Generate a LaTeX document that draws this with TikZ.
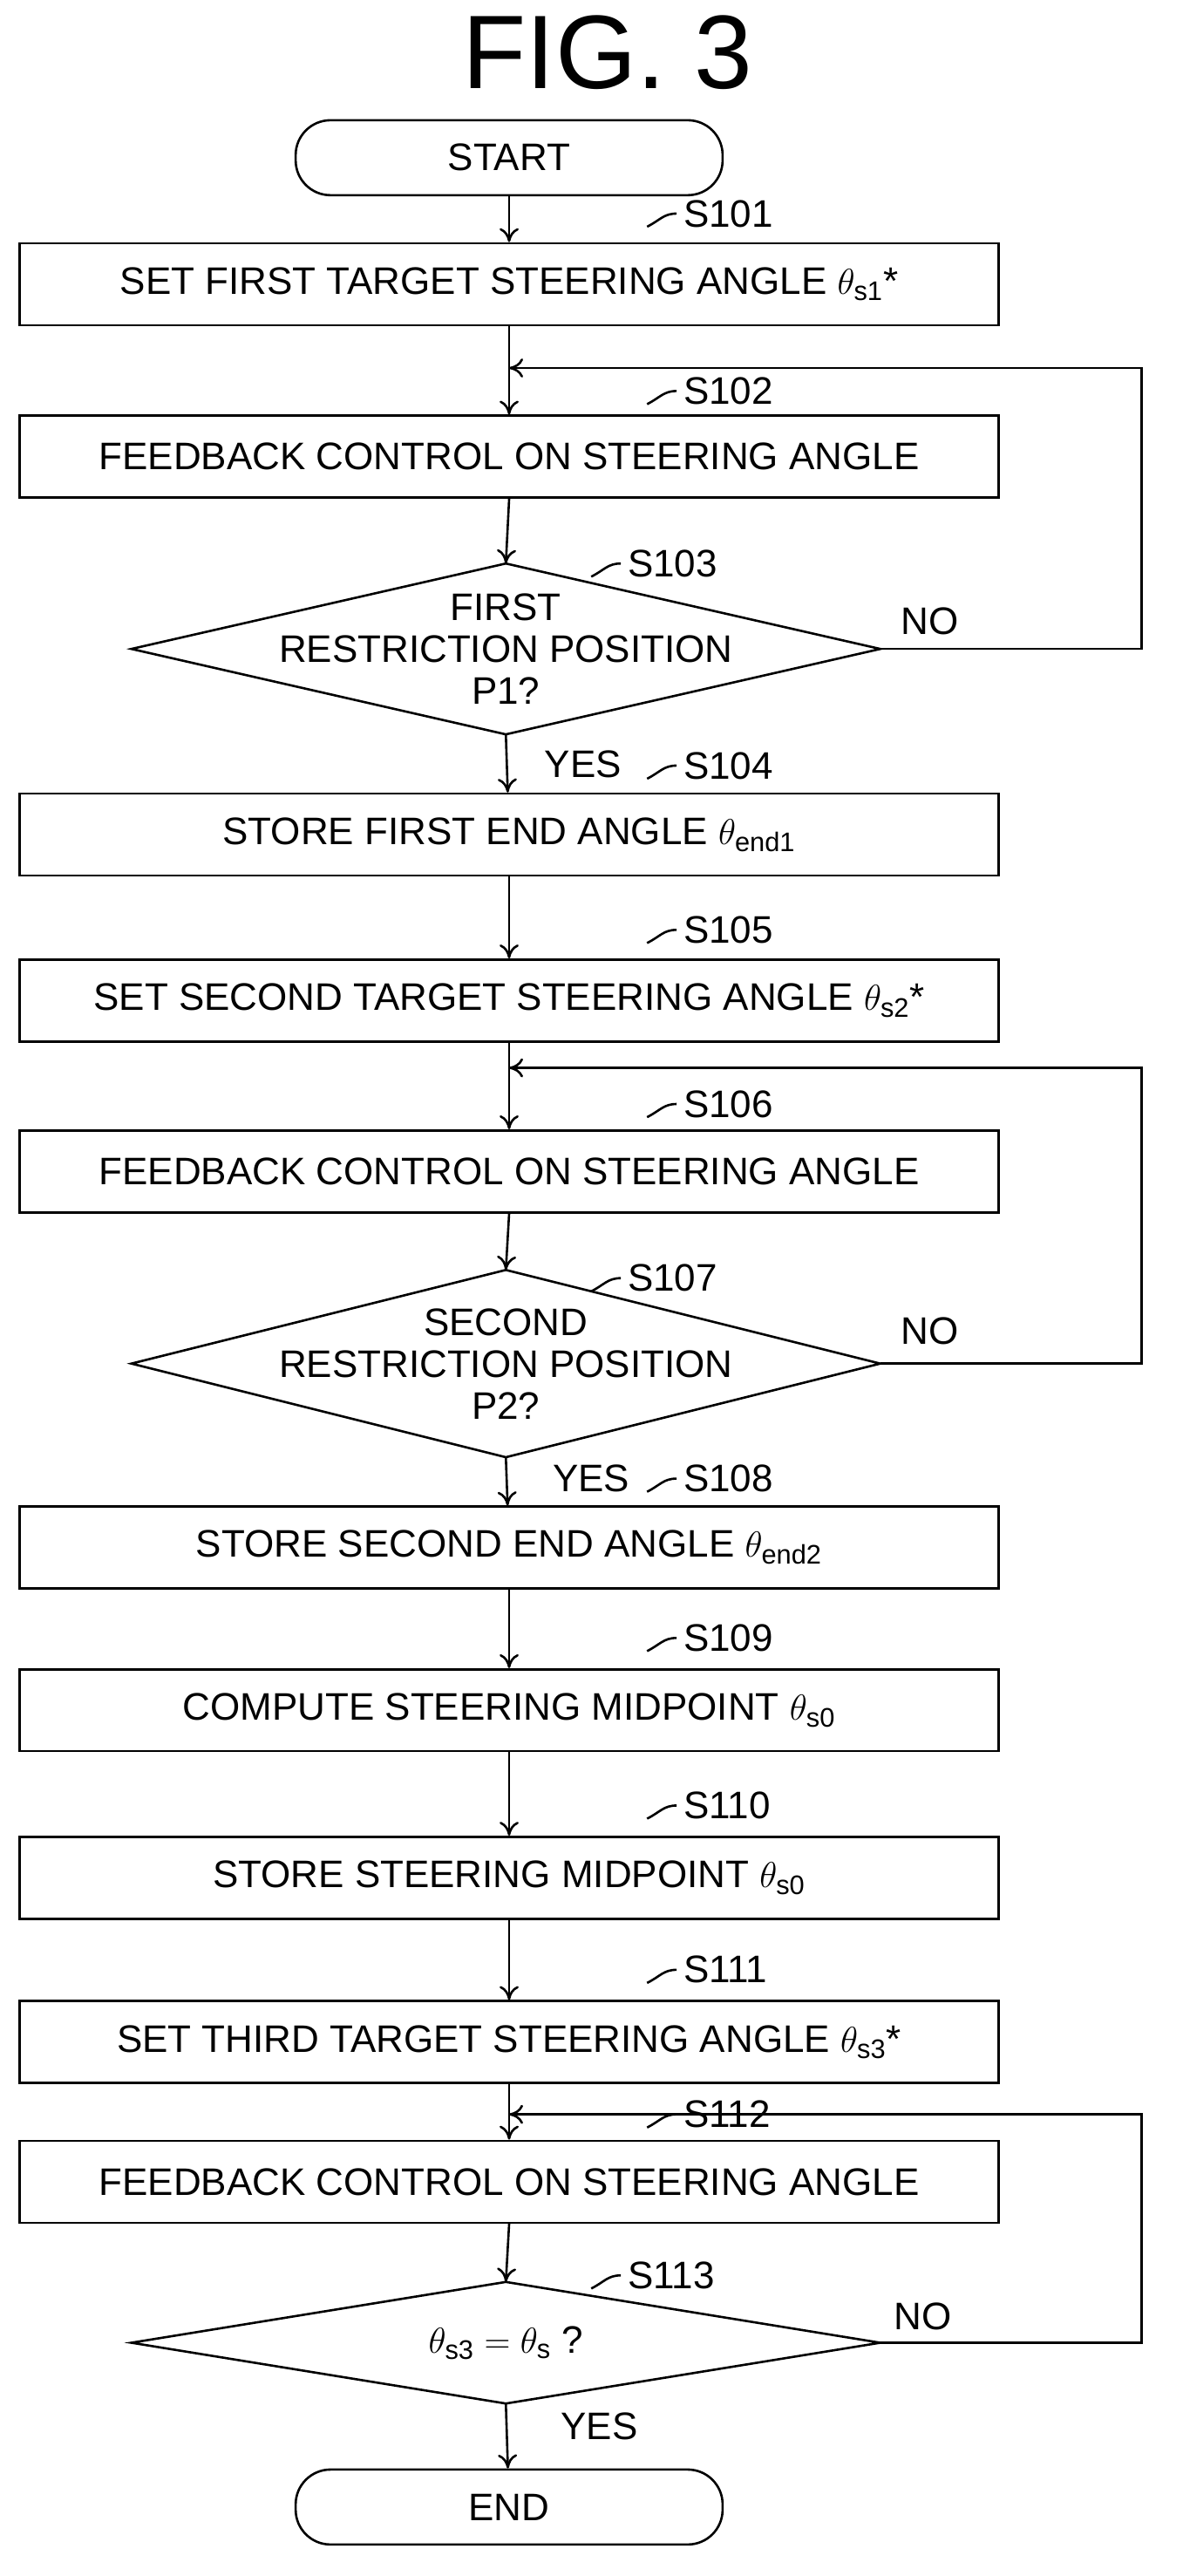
\documentclass[tikz,border=0pt]{standalone}
\usepackage{fontspec}
\setmainfont{Liberation Sans}
\usetikzlibrary{shapes.geometric,arrows.meta}
\tikzset{
    every path/.style={line width=1.3pt},
    box/.style={draw,minimum width=562pt,minimum height=47pt,inner sep=0pt,font=\fontsize{22}{26}\selectfont},
    term/.style={draw,rounded corners=20pt,minimum width=245pt,minimum height=43pt,font=\fontsize{22}{26}\selectfont},
    dec/.style={inner sep=0pt,align=center,font=\fontsize{22}{24}\selectfont},
    steplbl/.style={font=\fontsize{22}{26}\selectfont,anchor=west},
    txt/.style={font=\fontsize{22}{26}\selectfont},
    flow/.style={-{To[length=8pt,width=11pt]}}
}
\newcommand{\steplabel}[3]{% name, x, y
    \node[steplbl] (#1) at (#2,#3) {#1};
    \draw (#1.west) .. controls ++(-8,0) and ++(8,-4) .. ++(-18,8);
}
% diamond outline round a text node: name, half width, half height
\newcommand{\diam}[3]{%
    \draw (#1.center) ++(-#2,0) coordinate (#1-w) -- ++(#2,-#3) coordinate (#1-n)
        -- ++(#2,#3) coordinate (#1-e) -- ++(-#2,#3) coordinate (#1-s) -- cycle;
}
\begin{document}
\begin{tikzpicture}[x=0.9424pt,y=-0.9424pt]
    \useasboundingbox (0,0) rectangle (720,1568);
    \node[font=\fontsize{60}{62}\selectfont] (title) at (370,32) {FIG. 3};

    % main column
    \node[term] (start) at (310,96) {START};
    \node[box] (s101) at (310,173) {SET FIRST TARGET STEERING ANGLE $\theta_{\mathrm{s1}}$*};
    \node[box] (s102) at (310,278) {FEEDBACK CONTROL ON STEERING ANGLE};
    \node[dec] (s103) at (308,395) {FIRST\\RESTRICTION POSITION\\P1?};
    \diam{s103}{228}{52}
    \node[box] (s104) at (310,508) {STORE FIRST END ANGLE $\theta_{\mathrm{end1}}$};
    \node[box] (s105) at (310,609) {SET SECOND TARGET STEERING ANGLE $\theta_{\mathrm{s2}}$*};
    \node[box] (s106) at (310,713) {FEEDBACK CONTROL ON STEERING ANGLE};
    \node[dec] (s107) at (308,830) {SECOND\\RESTRICTION POSITION\\P2?};
    \diam{s107}{228}{57}
    \node[box] (s108) at (310,942) {STORE SECOND END ANGLE $\theta_{\mathrm{end2}}$};
    \node[box] (s109) at (310,1041) {COMPUTE STEERING MIDPOINT $\theta_{\mathrm{s0}}$};
    \node[box] (s110) at (310,1143) {STORE STEERING MIDPOINT $\theta_{\mathrm{s0}}$};
    \node[box] (s111) at (310,1243) {SET THIRD TARGET STEERING ANGLE $\theta_{\mathrm{s3}}$*};
    \node[box] (s112) at (310,1328) {FEEDBACK CONTROL ON STEERING ANGLE};
    \node[dec] (s113) at (308,1426) {$\theta_{\mathrm{s3}}=\theta_{\mathrm{s}}$ ?};
    \diam{s113}{228}{37}
    \node[term] (end) at (310,1526) {END};

    % step labels
    \steplabel{S101}{412}{130}
    \steplabel{S102}{412}{238}
    \steplabel{S103}{378}{343}
    \steplabel{S104}{412}{466}
    \steplabel{S105}{412}{566}
    \steplabel{S106}{412}{672}
    \steplabel{S107}{378}{778}
    \steplabel{S108}{412}{900}
    \steplabel{S109}{412}{997}
    \steplabel{S110}{412}{1099}
    \steplabel{S111}{412}{1199}
    \steplabel{S112}{412}{1287}
    \steplabel{S113}{378}{1385}

    % connectors
    \draw[flow] (start) -- (s101);
    \draw[flow] (s101) -- (s102);
    \draw[flow] (s102.south) -- (s103-n);
    \draw[flow] (s103-s) -- (s104);
    \draw[flow] (s104) -- (s105);
    \draw[flow] (s105) -- (s106);
    \draw[flow] (s106.south) -- (s107-n);
    \draw[flow] (s107-s) -- (s108);
    \draw[flow] (s108) -- (s109);
    \draw[flow] (s109) -- (s110);
    \draw[flow] (s110) -- (s111);
    \draw[flow] (s111) -- (s112);
    \draw[flow] (s112.south) -- (s113-n);
    \draw[flow] (s113-s) -- (end);

    % loops
    \coordinate (j1) at (s102.north |- 0,224);
    \coordinate (j2) at (s106.north |- 0,650);
    \coordinate (j3) at (s112.north |- 0,1287);
    \draw[flow] (s103-e) -- (695,395) -- (695,224) -- (j1);
    \draw[flow] (s107-e) -- (695,830) -- (695,650) -- (j2);
    \draw[flow] (s113-e) -- (695,1426) -- (695,1287) -- (j3);

    % branch labels
    \node[txt] (no1) at (566,378) {NO};
    \node[txt] (no2) at (566,810) {NO};
    \node[txt] (no3) at (562,1410) {NO};
    \node[txt] (yes1) at (355,465) {YES};
    \node[txt] (yes2) at (360,900) {YES};
    \node[txt] (yes3) at (365,1477) {YES};
\end{tikzpicture}
\end{document}
